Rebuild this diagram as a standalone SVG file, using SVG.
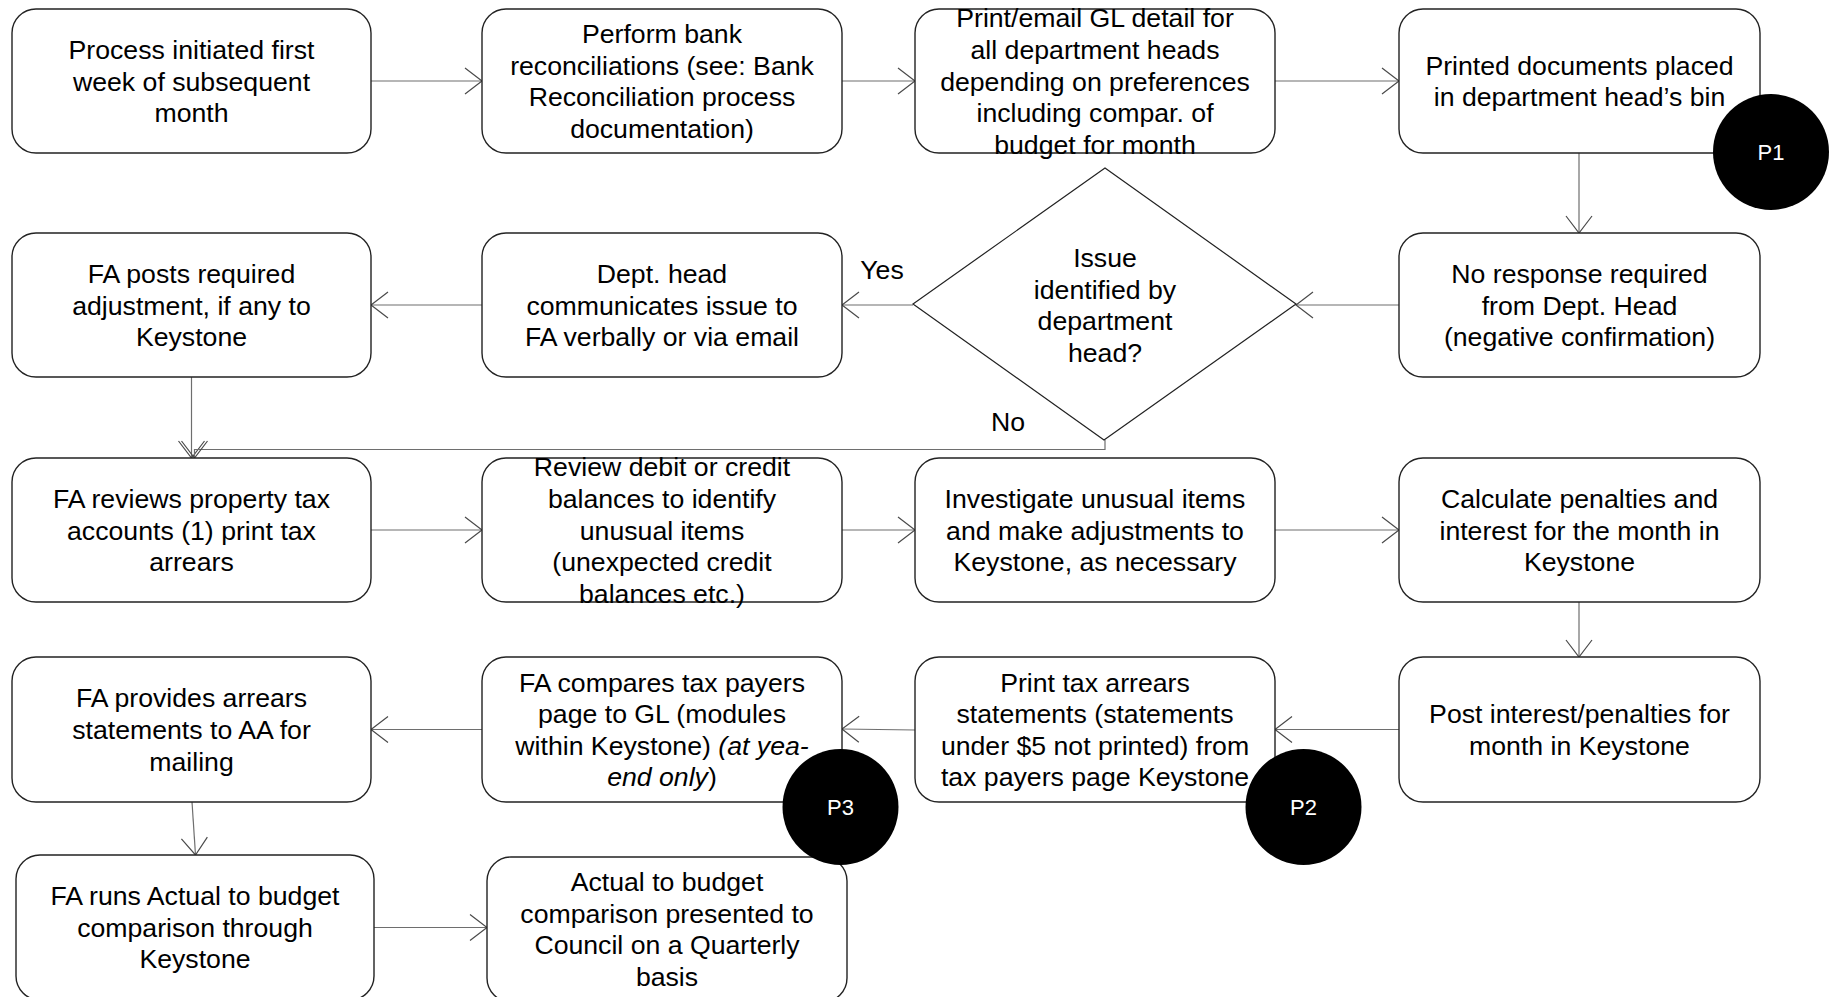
<svg xmlns="http://www.w3.org/2000/svg" width="1834" height="997" viewBox="0 0 1834 997">
  <style>
    .box { fill: #ffffff; stroke: #222222; stroke-width: 1.4; }
    .dec { fill: #ffffff; stroke: #222222; stroke-width: 1.2; }
    .lbl { font-family: "Liberation Sans", Arial, sans-serif; font-size: 26.67px; fill: #000000; text-anchor: middle; }
    .edge { fill: none; stroke: #6e6e6e; stroke-width: 1.2; }
    .pin { fill: #000000; }
    .pin-t { font-family: "Liberation Sans", Arial, sans-serif; font-size: 22px; fill: #ffffff; text-anchor: middle; }
    .it { font-style: italic; }
  </style>
  <defs>
    <marker id="arrow" markerUnits="userSpaceOnUse" markerWidth="22" markerHeight="30" refX="18" refY="14" orient="auto" viewBox="0 0 22 30">
      <path d="M1,1 L18,14 L1,27" fill="none" stroke="#4a4a4a" stroke-width="1.2"/>
    </marker>
  </defs>
  <rect width="1834" height="997" fill="#ffffff"/>

  <!-- connectors -->
  <g id="connectors">
    <path class="edge" d="M371,81 H482" marker-end="url(#arrow)"/>
    <path class="edge" d="M842,81 H915" marker-end="url(#arrow)"/>
    <path class="edge" d="M1275,81 H1399" marker-end="url(#arrow)"/>
    <path class="edge" d="M1579,153 V233" marker-end="url(#arrow)"/>
    <path class="edge" d="M1399,305 H1296" marker-end="url(#arrow)"/>
    <path class="edge" d="M913,305 H842" marker-end="url(#arrow)"/>
    <path class="edge" d="M482,305 H371" marker-end="url(#arrow)"/>
    <path class="edge" d="M191.5,377 V458" marker-end="url(#arrow)"/>
    <path class="edge" d="M1105,440 V449.5 H194.5 V458" marker-end="url(#arrow)"/>
    <path class="edge" d="M371,530 H482" marker-end="url(#arrow)"/>
    <path class="edge" d="M842,530 H915" marker-end="url(#arrow)"/>
    <path class="edge" d="M1275,530 H1399" marker-end="url(#arrow)"/>
    <path class="edge" d="M1579,602 V657" marker-end="url(#arrow)"/>
    <path class="edge" d="M1399,729.5 H1275" marker-end="url(#arrow)"/>
    <path class="edge" d="M915,730 L842,729" marker-end="url(#arrow)"/>
    <path class="edge" d="M482,729.5 H371" marker-end="url(#arrow)"/>
    <path class="edge" d="M192,802 L195.5,855" marker-end="url(#arrow)"/>
    <path class="edge" d="M374,927.5 H487" marker-end="url(#arrow)"/>
    <text class="lbl" x="882" y="279">Yes</text>
    <text class="lbl" x="1008" y="431">No</text>
  </g>

  <!-- row 1 -->
  <g id="start">
    <rect class="box" x="12" y="9" width="359" height="144" rx="24"/>
    <text class="lbl"><tspan x="191.5" y="59">Process initiated first</tspan><tspan x="191.5" y="90.5">week of subsequent</tspan><tspan x="191.5" y="122">month</tspan></text>
  </g>
  <g id="bank-rec">
    <rect class="box" x="482" y="9" width="360" height="144" rx="24"/>
    <text class="lbl"><tspan x="662" y="43">Perform bank</tspan><tspan x="662" y="74.7">reconciliations (see: Bank</tspan><tspan x="662" y="106.3">Reconciliation process</tspan><tspan x="662" y="138">documentation)</tspan></text>
  </g>
  <g id="print-gl">
    <rect class="box" x="915" y="9" width="360" height="144" rx="24"/>
    <text class="lbl"><tspan x="1095" y="27.3">Print/email GL detail for</tspan><tspan x="1095" y="58.9">all department heads</tspan><tspan x="1095" y="90.5">depending on preferences</tspan><tspan x="1095" y="122.1">including compar. of</tspan><tspan x="1095" y="153.7">budget for month</tspan></text>
  </g>
  <g id="bin">
    <rect class="box" x="1399" y="9" width="361" height="144" rx="24"/>
    <text class="lbl"><tspan x="1579.5" y="74.7">Printed documents placed</tspan><tspan x="1579.5" y="106.3">in department head’s bin</tspan></text>
  </g>

  <!-- row 2 -->
  <g id="no-response">
    <rect class="box" x="1399" y="233" width="361" height="144" rx="24"/>
    <text class="lbl"><tspan x="1579.5" y="283">No response required</tspan><tspan x="1579.5" y="314.5">from Dept. Head</tspan><tspan x="1579.5" y="346">(negative confirmation)</tspan></text>
  </g>
  <g id="issue-decision">
    <polygon class="dec" points="1105,168 1296,304 1104,440 913,304"/>
    <text class="lbl"><tspan x="1105" y="267">Issue</tspan><tspan x="1105" y="298.7">identified by</tspan><tspan x="1105" y="330.3">department</tspan><tspan x="1105" y="362">head?</tspan></text>
  </g>
  <g id="communicate">
    <rect class="box" x="482" y="233" width="360" height="144" rx="24"/>
    <text class="lbl"><tspan x="662" y="283">Dept. head</tspan><tspan x="662" y="314.5">communicates issue to</tspan><tspan x="662" y="346">FA verbally or via email</tspan></text>
  </g>
  <g id="post-adjustment">
    <rect class="box" x="12" y="233" width="359" height="144" rx="24"/>
    <text class="lbl"><tspan x="191.5" y="283">FA posts required</tspan><tspan x="191.5" y="314.5">adjustment, if any to</tspan><tspan x="191.5" y="346">Keystone</tspan></text>
  </g>

  <!-- row 3 -->
  <g id="review-accounts">
    <rect class="box" x="12" y="458" width="359" height="144" rx="24"/>
    <text class="lbl"><tspan x="191.5" y="508">FA reviews property tax</tspan><tspan x="191.5" y="539.5">accounts (1) print tax</tspan><tspan x="191.5" y="571">arrears</tspan></text>
  </g>
  <g id="review-balances">
    <rect class="box" x="482" y="458" width="360" height="144" rx="24"/>
    <text class="lbl"><tspan x="662" y="476.3">Review debit or credit</tspan><tspan x="662" y="507.9">balances to identify</tspan><tspan x="662" y="539.5">unusual items</tspan><tspan x="662" y="571.1">(unexpected credit</tspan><tspan x="662" y="602.7">balances etc.)</tspan></text>
  </g>
  <g id="investigate">
    <rect class="box" x="915" y="458" width="360" height="144" rx="24"/>
    <text class="lbl"><tspan x="1095" y="508">Investigate unusual items</tspan><tspan x="1095" y="539.5">and make adjustments to</tspan><tspan x="1095" y="571">Keystone, as necessary</tspan></text>
  </g>
  <g id="calc-penalties">
    <rect class="box" x="1399" y="458" width="361" height="144" rx="24"/>
    <text class="lbl"><tspan x="1579.5" y="508">Calculate penalties and</tspan><tspan x="1579.5" y="539.5">interest for the month in</tspan><tspan x="1579.5" y="571">Keystone</tspan></text>
  </g>

  <!-- row 4 -->
  <g id="post-interest">
    <rect class="box" x="1399" y="657" width="361" height="145" rx="24"/>
    <text class="lbl"><tspan x="1579.5" y="723.2">Post interest/penalties for</tspan><tspan x="1579.5" y="754.8">month in Keystone</tspan></text>
  </g>
  <g id="print-statements">
    <rect class="box" x="915" y="657" width="360" height="145" rx="24"/>
    <text class="lbl"><tspan x="1095" y="691.6">Print tax arrears</tspan><tspan x="1095" y="723.2">statements (statements</tspan><tspan x="1095" y="754.8">under $5 not printed) from</tspan><tspan x="1095" y="786.4">tax payers page Keystone</tspan></text>
  </g>
  <g id="compare-gl">
    <rect class="box" x="482" y="657" width="360" height="145" rx="24"/>
    <text class="lbl"><tspan x="662" y="691.6">FA compares tax payers</tspan><tspan x="662" y="723.2">page to GL (modules</tspan><tspan x="662" y="754.8">within Keystone) <tspan class="it">(at yea-</tspan></tspan><tspan x="662" y="786.4"><tspan class="it">end only</tspan>)</tspan></text>
  </g>
  <g id="provide-statements">
    <rect class="box" x="12" y="657" width="359" height="145" rx="24"/>
    <text class="lbl"><tspan x="191.5" y="707.4">FA provides arrears</tspan><tspan x="191.5" y="739">statements to AA for</tspan><tspan x="191.5" y="770.6">mailing</tspan></text>
  </g>

  <!-- row 5 -->
  <g id="run-budget">
    <rect class="box" x="16" y="855" width="358" height="145" rx="24"/>
    <text class="lbl"><tspan x="195" y="905">FA runs Actual to budget</tspan><tspan x="195" y="936.5">comparison through</tspan><tspan x="195" y="968">Keystone</tspan></text>
  </g>
  <g id="present-council">
    <rect class="box" x="487" y="857" width="360" height="145" rx="24"/>
    <text class="lbl"><tspan x="667" y="891">Actual to budget</tspan><tspan x="667" y="922.7">comparison presented to</tspan><tspan x="667" y="954.3">Council on a Quarterly</tspan><tspan x="667" y="986">basis</tspan></text>
  </g>

  <!-- control points -->
  <g id="P1">
    <circle class="pin" cx="1771" cy="152" r="58"/>
    <text class="pin-t" x="1771" y="160">P1</text>
  </g>
  <g id="P2">
    <circle class="pin" cx="1303.5" cy="807" r="58"/>
    <text class="pin-t" x="1303.5" y="815">P2</text>
  </g>
  <g id="P3">
    <circle class="pin" cx="840.5" cy="807" r="58"/>
    <text class="pin-t" x="840.5" y="815">P3</text>
  </g>
</svg>
